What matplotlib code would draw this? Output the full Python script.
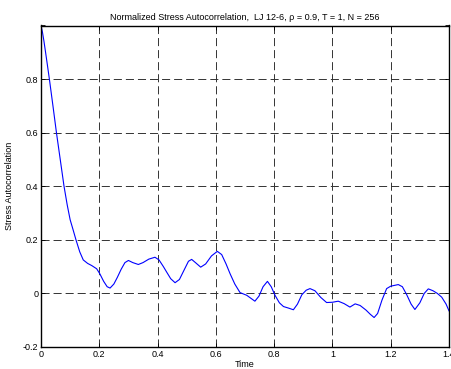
import matplotlib
matplotlib.use("Agg")
import matplotlib.pyplot as plt

# values
time = [0.000, 0.005, 0.010, 0.015, 0.022, 0.030, 0.041, 0.053, 0.066, 0.079,
        0.090, 0.100, 0.110, 0.120, 0.133, 0.145, 0.160, 0.174, 0.191, 0.202,
        0.215, 0.227, 0.237, 0.250, 0.262, 0.275, 0.288, 0.300, 0.315, 0.334,
        0.350, 0.370, 0.391, 0.405, 0.420, 0.431, 0.445, 0.460, 0.475, 0.490,
        0.506, 0.517, 0.530, 0.548, 0.565, 0.585, 0.605, 0.620, 0.635, 0.649,
        0.665, 0.683, 0.706, 0.720, 0.734, 0.748, 0.762, 0.777, 0.790, 0.803,
        0.818, 0.832, 0.850, 0.866, 0.880, 0.895, 0.910, 0.923, 0.940, 0.960,
        0.980, 1.000, 1.020, 1.040, 1.060, 1.078, 1.095, 1.115, 1.130, 1.143,
        1.155, 1.170, 1.186, 1.200, 1.226, 1.240, 1.255, 1.270, 1.283, 1.300,
        1.315, 1.329, 1.345, 1.360, 1.375, 1.390, 1.400]
acf = [1.000, 0.975, 0.942, 0.905, 0.852, 0.790, 0.700, 0.600, 0.500, 0.400,
       0.330, 0.275, 0.238, 0.200, 0.155, 0.125, 0.112, 0.104, 0.092, 0.073,
       0.045, 0.025, 0.020, 0.035, 0.060, 0.090, 0.115, 0.123, 0.115, 0.108,
       0.115, 0.128, 0.135, 0.125, 0.100, 0.080, 0.055, 0.040, 0.052, 0.085,
       0.120, 0.127, 0.115, 0.098, 0.110, 0.140, 0.157, 0.145, 0.110, 0.073,
       0.035, 0.003, -0.007, -0.018, -0.029, -0.010, 0.025, 0.045, 0.025, -0.007,
       -0.035, -0.049, -0.055, -0.061, -0.040, -0.005, 0.012, 0.018, 0.010, -0.015,
       -0.034, -0.033, -0.029, -0.038, -0.051, -0.039, -0.045, -0.062, -0.078, -0.090,
       -0.075, -0.025, 0.018, 0.027, 0.033, 0.025, -0.005, -0.040, -0.060, -0.035,
       0.000, 0.017, 0.010, 0.000, -0.014, -0.040, -0.065]

xticks = [0, 0.2, 0.4, 0.6, 0.8, 1.0, 1.2, 1.4]
xlabels = ["0", "0.2", "0.4", "0.6", "0.8", "1", "1.2", "1.4"]
yticks = [-0.2, 0, 0.2, 0.4, 0.6, 0.8, 1.0]
ylabels = ["-0.2", "0", "0.2", "0.4", "0.6", "0.8", ""]

plt.rcParams['font.family'] = ['Liberation Sans', 'DejaVu Sans']

fig = plt.figure(figsize=(4.51, 3.69), dpi=100)
ax = fig.add_axes([41 / 451, 22 / 369, 408 / 451, 321.5 / 369])

ax.plot(time, acf, color='#0000ff', lw=0.8)

ax.set_xlim(0, 1.4)
ax.set_ylim(-0.2, 1.0)
ax.set_xticks(xticks)
ax.set_xticklabels(xlabels)
ax.set_yticks(yticks)
ax.set_yticklabels(ylabels)
ax.tick_params(direction='in', length=3, width=0.6, labelsize=6.5,
               top=True, right=True, pad=2)
ax.grid(True, color='0.2', lw=0.7, linestyle=(0, (8.3, 4.1)))
for s in ax.spines.values():
    s.set_linewidth(1.0)

ax.set_title("Normalized Stress Autocorrelation,  LJ 12-6, \u03c1 = 0.9, T = 1, N = 256",
             fontsize=6.5, pad=4)
ax.set_xlabel("Time", fontsize=6.5, labelpad=1)
ax.set_ylabel("Stress Autocorrelation", fontsize=6.5, labelpad=6)

fig.savefig("out.png", dpi=100)
